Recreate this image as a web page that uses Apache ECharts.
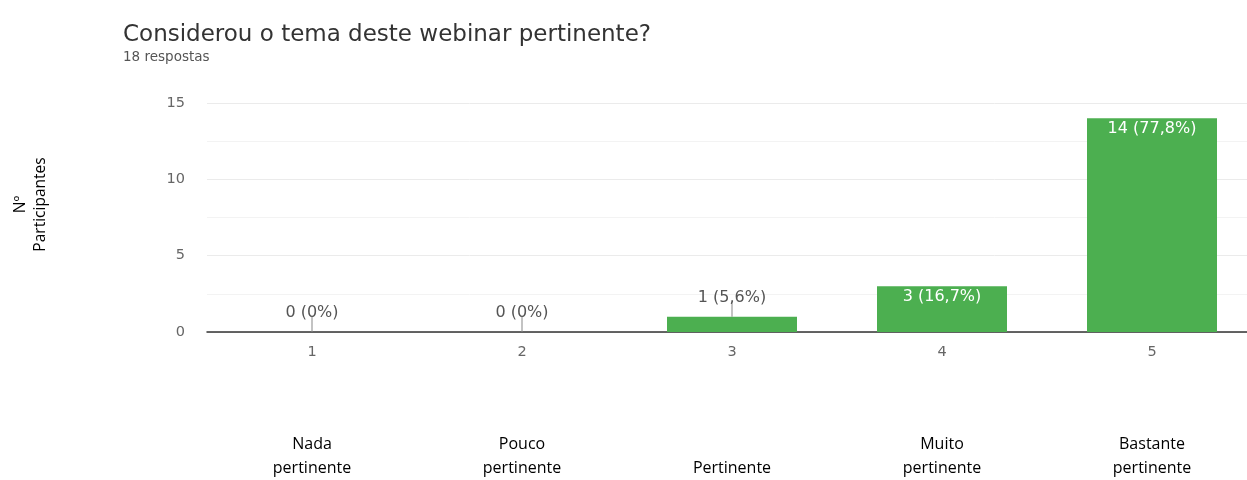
<!DOCTYPE html>
<html>
<head>
<meta charset="utf-8">
<script src="https://cdn.jsdelivr.net/npm/echarts@6/dist/echarts.min.js"></script>
<style>html,body{margin:0;padding:0;background:#fff;overflow:hidden}#c{width:1257px;height:480px}</style>
</head>
<body>
<div id="c"></div>
<script>
var titleText = 'Considerou o tema deste webinar pertinente?';
var subtitleText = '18 respostas';
var categories = ['1', '2', '3', '4', '5'];
var descriptions = ['Nada\npertinente', 'Pouco\npertinente', 'Pertinente', 'Muito\npertinente', 'Bastante\npertinente'];
var counts = [0, 0, 1, 3, 14];
var percents = ['0%', '0%', '5,6%', '16,7%', '77,8%'];
var yAxisName = 'Nº\nParticipantes';

var labelFont = 'DejaVu Sans, Liberation Sans, Arial';
var chart = echarts.init(document.getElementById('c'));
var barData = counts.map(function (v, i) {
  var inside = v >= 3;
  return {
    value: v,
    label: {
      show: inside,
      position: 'insideTop',
      distance: 3,
      color: '#fff',
      fontFamily: labelFont,
      fontSize: 16,
      formatter: v + ' (' + percents[i] + ')'
    }
  };
});
var leaderData = counts.map(function (v, i) {
  return v >= 3 ? [i, '-'] : {
    value: [i, v],
    label: {
      show: true,
      position: 'top',
      distance: 0,
      offset: [0, 4],
      color: '#555',
      fontFamily: labelFont,
      fontSize: 16,
      formatter: v + ' (' + percents[i] + ')'
    }
  };
});

chart.setOption({
  animation: false,
  backgroundColor: '#fff',
  title: {
    text: titleText,
    subtext: subtitleText,
    left: 118,
    top: 19,
    itemGap: 3,
    textStyle: { fontFamily: labelFont, fontSize: 23, fontWeight: 'normal', color: '#333' },
    subtextStyle: { fontFamily: labelFont, fontSize: 13.5, color: '#555' }
  },
  grid: { left: 207, top: 103, right: 0, height: 230, containLabel: false },
  xAxis: [{
    type: 'category',
    data: categories,
    axisLine: { lineStyle: { color: '#333', width: 1.5 } },
    axisTick: { show: false },
    axisLabel: { color: '#666', fontFamily: labelFont, fontSize: 14.5, margin: 13 }
  }, {
    type: 'category',
    data: descriptions,
    position: 'bottom',
    axisLine: { show: false },
    axisTick: { show: false },
    axisLabel: {
      color: '#000', fontFamily: 'Open Sans, Liberation Sans', fontSize: 16,
      lineHeight: 24, verticalAlign: 'bottom', margin: 148
    }
  }],
  yAxis: {
    type: 'value',
    min: 0, max: 15, interval: 5,
    name: yAxisName,
    nameLocation: 'middle',
    nameRotate: 90,
    nameGap: 156,
    nameTextStyle: { fontFamily: 'Open Sans, Liberation Sans', fontSize: 15.5, color: '#000', lineHeight: 20, padding: [0, 0, 0, 26] },
    axisLine: { show: false },
    axisTick: { show: false },
    axisLabel: { color: '#666', fontFamily: labelFont, fontSize: 14.5, margin: 22 },
    splitLine: { lineStyle: { color: '#ebebeb', width: 1 } },
    minorTick: { show: false, splitNumber: 2 },
    minorSplitLine: { show: true, lineStyle: { color: '#f3f3f3', width: 1 } }
  },
  series: [{
    type: 'bar',
    data: barData,
    barWidth: 130,
    itemStyle: { color: '#4caf50' }
  }, {
    type: 'scatter',
    data: leaderData,
    symbol: 'rect',
    symbolSize: [1, 15],
    symbolOffset: [0, -7.5],
    itemStyle: { color: '#888', opacity: 1 },
    z: 5
  }]
});
</script>
</body>
</html>
